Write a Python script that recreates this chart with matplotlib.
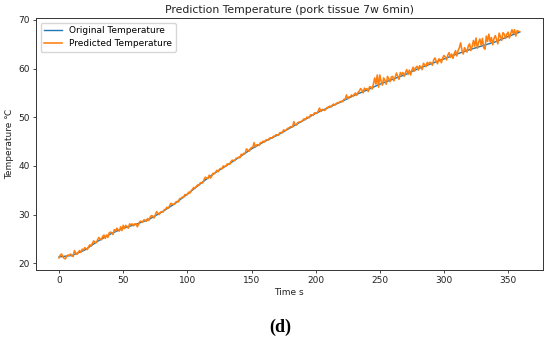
import numpy as np
import matplotlib
matplotlib.use("Agg")
import matplotlib.pyplot as plt

# ----------------------------
# Data
# ----------------------------
# measured temperature, sampled every 10 s
time_orig = [0, 10, 20, 30, 40, 50, 60, 70, 80, 90, 100, 110, 120, 130, 140,
             150, 160, 170, 180, 190, 200, 210, 220, 230, 240, 250, 260, 270,
             280, 290, 300, 310, 320, 330, 340, 350, 359]
temp_orig = [21.3, 21.6, 22.7, 24.5, 26.0, 27.2, 28.0, 29.0, 30.5, 32.2, 34.2,
             36.3, 38.3, 40.0, 41.7, 43.5, 45.0, 46.3, 47.8, 49.3, 50.8, 52.0,
             53.2, 54.5, 55.6, 56.8, 57.8, 58.8, 60.0, 61.0, 62.0, 63.0, 63.9,
             64.7, 65.5, 66.6, 67.5]

# predicted temperature, one value per second (one row = 10 s)
time_pred = list(range(0, 360))
temp_pred = [
    21.1, 21.7, 21.9, 21.3, 21.0, 20.9, 21.5, 21.7, 21.6, 21.9,
    21.5, 21.4, 22.6, 22.1, 21.8, 22.3, 22.6, 22.2, 22.9, 22.7,
    23.2, 23.0, 22.8, 23.4, 23.8, 23.5, 24.1, 24.6, 24.3, 24.2,
    24.8, 25.3, 25.0, 24.8, 25.5, 25.8, 25.1, 25.8, 25.3, 26.2,
    26.4, 26.3, 25.9, 26.9, 26.6, 27.2, 26.9, 26.6, 27.5, 26.7,
    27.8, 27.1, 27.8, 27.5, 27.2, 28.1, 27.9, 28.1, 27.7, 28.1,
    28.1, 27.5, 28.0, 28.6, 28.6, 28.4, 28.9, 28.9, 28.6, 29.2,
    28.8, 29.5, 29.8, 29.7, 29.3, 29.9, 30.6, 30.3, 30.0, 30.5,
    30.6, 30.5, 31.0, 31.1, 31.5, 31.3, 31.7, 32.3, 32.2, 32.1,
    32.1, 32.6, 32.7, 32.6, 33.3, 33.3, 33.6, 33.5, 34.1, 34.1,
    34.1, 34.6, 34.4, 34.9, 35.2, 35.6, 35.4, 35.8, 36.1, 36.0,
    36.5, 36.6, 36.5, 37.2, 37.7, 37.5, 37.4, 38.1, 37.5, 37.9,
    38.5, 38.4, 38.7, 39.1, 38.8, 39.3, 39.5, 39.4, 40.0, 39.9,
    39.9, 40.4, 40.4, 40.3, 40.9, 41.2, 41.1, 41.1, 41.6, 41.6,
    41.8, 41.7, 42.4, 42.3, 42.6, 42.5, 43.5, 43.3, 43.0, 43.5,
    43.8, 43.8, 44.8, 43.9, 44.3, 44.4, 44.2, 44.8, 44.8, 45.1,
    44.9, 45.3, 45.4, 45.3, 45.7, 45.8, 45.7, 46.1, 46.1, 46.4,
    46.4, 46.3, 46.8, 46.9, 46.8, 47.4, 47.3, 47.3, 47.7, 47.8,
    48.0, 48.1, 48.0, 49.1, 48.5, 48.4, 48.9, 49.0, 49.1, 49.1,
    49.4, 49.7, 49.5, 50.0, 50.0, 49.9, 50.5, 50.5, 50.4, 50.9,
    50.9, 50.8, 51.3, 51.9, 51.2, 51.6, 51.6, 51.4, 51.7, 52.0,
    52.1, 52.3, 52.1, 52.5, 52.7, 52.5, 52.8, 53.0, 53.0, 53.2,
    53.3, 53.2, 53.7, 53.7, 54.6, 53.8, 54.2, 54.2, 54.6, 54.3,
    54.7, 55.0, 54.5, 55.1, 55.4, 55.9, 55.6, 55.0, 56.0, 55.7,
    55.9, 55.3, 56.3, 56.2, 55.8, 56.8, 58.1, 56.8, 58.7, 56.2,
    58.7, 57.4, 56.6, 58.1, 57.6, 56.8, 58.4, 57.9, 57.3, 58.3,
    58.4, 57.5, 58.3, 59.1, 58.4, 57.8, 59.2, 58.8, 59.2, 58.4,
    59.2, 59.8, 58.8, 59.7, 58.7, 59.7, 60.3, 59.5, 60.2, 60.5,
    59.7, 60.6, 60.4, 59.8, 61.1, 60.8, 60.4, 61.3, 60.9, 61.3,
    61.2, 60.7, 61.8, 62.2, 61.5, 61.0, 62.0, 61.9, 61.2, 62.2,
    62.7, 62.4, 61.8, 62.8, 63.3, 62.3, 63.0, 62.1, 63.1, 63.7,
    62.6, 63.7, 64.3, 65.3, 63.8, 63.0, 64.3, 63.9, 63.4, 64.7,
    65.1, 63.7, 64.6, 65.8, 64.6, 66.3, 64.2, 65.4, 66.1, 64.8,
    66.2, 64.3, 64.0, 66.7, 65.6, 67.1, 65.5, 66.4, 64.9, 66.2,
    66.8, 66.0, 65.1, 67.3, 66.6, 65.8, 67.4, 67.1, 66.2, 67.1,
    67.5, 66.3, 67.2, 68.0, 67.2, 68.0, 66.7, 67.8, 67.7, 67.6,
]

TITLE = "Prediction Temperature (pork tissue 7w 6min)"
XLABEL = "Time s"
YLABEL = "Temperature \u2103"
PANEL = "(d)"

FS = 6.5


def main():
    fig = plt.figure(figsize=(5.5, 3.42), dpi=100)
    ax = fig.add_axes([0.0655, 0.2096, 0.9212, 0.737])

    ax.plot(time_orig, temp_orig, color="#1f77b4", linewidth=1.0,
            label="Original Temperature")
    ax.plot(time_pred, temp_pred, color="#ff7f0e", linewidth=1.15,
            label="Predicted Temperature")

    ax.set_title(TITLE, fontsize=7.8, pad=3.5, color="#222222")
    ax.set_xlabel(XLABEL, fontsize=FS, labelpad=2, color="#222222")
    ax.set_ylabel(YLABEL, fontsize=FS, labelpad=3, color="#222222")
    ax.tick_params(labelsize=FS, width=0.5, length=2.2, pad=2,
                   labelcolor="#222222")
    for sp in ax.spines.values():
        sp.set_linewidth(0.7)
        sp.set_color("#333333")
    ax.set_yticks([20, 30, 40, 50, 60, 70])
    ax.set_xticks([0, 50, 100, 150, 200, 250, 300, 350])

    ax.legend(loc="upper left", fontsize=FS, handlelength=2.0,
              borderpad=0.4, labelspacing=0.4, framealpha=0.8)

    fig.text(0.51, 1 - 327 / 342, PANEL, ha="center", va="center",
             family="Liberation Serif", weight="bold", fontsize=13)

    fig.savefig("out.png", dpi=100)


if __name__ == "__main__":
    main()
